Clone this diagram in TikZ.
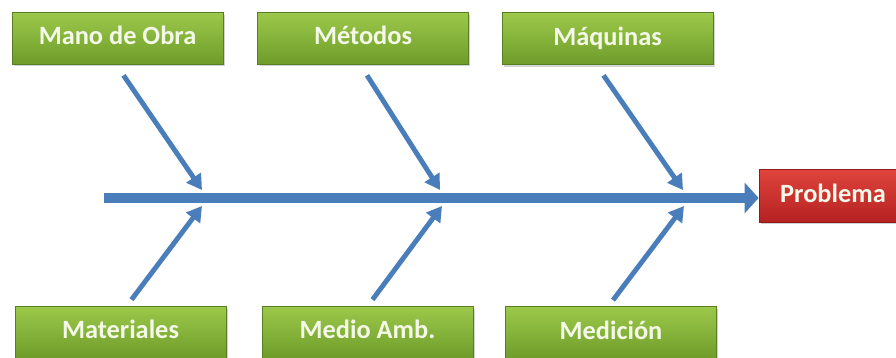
\documentclass[tikz,border=0pt]{standalone}
\usepackage{fontspec}
\setmainfont{Carlito}
\usetikzlibrary{arrows.meta,shadows,calc}

\definecolor{verdeclaro}{HTML}{9CC94A}
\definecolor{verdeoscuro}{HTML}{6F9C2A}
\definecolor{rojoclaro}{HTML}{E0443C}
\definecolor{rojooscuro}{HTML}{B52222}
\definecolor{azulflecha}{HTML}{4A7EBB}
\definecolor{textoclaro}{HTML}{F4F8E8}

\tikzset{
  causa/.style={minimum width=4.22cm, minimum height=1.04cm, inner sep=0pt,
    text height=10.5pt, text depth=3pt,
    top color=verdeclaro, bottom color=verdeoscuro, draw=verdeoscuro!80!black,
    drop shadow={opacity=0.35, shadow xshift=0.04cm, shadow yshift=-0.05cm},
    text=textoclaro, font=\fontsize{15}{18}\selectfont\bfseries},
  efecto/.style={causa, minimum width=2.96cm, minimum height=1.06cm,
    top color=rojoclaro, bottom color=rojooscuro, draw=rojooscuro!80!black},
  espina/.style={draw=azulflecha, line width=5.6pt,
    -{Triangle[length=0.28cm, width=0.6cm]}},
  flecha/.style={draw=azulflecha, line width=2.8pt,
    -{Triangle[length=0.3cm, width=0.34cm]}}
}

\begin{document}
\begin{tikzpicture}[x=0.02cm,y=-0.02cm]
    \useasboundingbox (0,0) rectangle (896,358);

    % causas de arriba
    \node[causa] (mano) at (117.5,38) {Mano de Obra};
    \node[causa] (metodos) at (363,38) {Métodos};
    \node[causa] (maquinas) at (607.5,38.5) {Máquinas};

    % causas de abajo
    \node[causa] (materiales) at (120.5,332) {Materiales};
    \node[causa] (medio) at (367.5,332) {Medio Amb.};
    \node[causa] (medicion) at (611,332.5) {Medición};

    % efecto
    \node[efecto] (problema) at (833,195.5) {Problema};

    % espina central
    \coordinate (inicio) at (104,198);
    \draw[espina] (inicio) -- (problema.west |- inicio);

    % puntos sobre la espina
    \coordinate (a1) at (202,190);
    \coordinate (a2) at (440,190);
    \coordinate (a3) at (683,190);
    \coordinate (b1) at (202,206);
    \coordinate (b2) at (442,206);
    \coordinate (b3) at (684,206);

    % flechas
    \draw[flecha] ($(mano.south)+(6,11)$) -- (a1);
    \draw[flecha] ($(metodos.south)+(4,11)$) -- (a2);
    \draw[flecha] ($(maquinas.south)+(-4,10.5)$) -- (a3);
    \draw[flecha] ($(materiales.north)+(11,-6)$) -- (b1);
    \draw[flecha] ($(medio.north)+(5,-6)$) -- (b2);
    \draw[flecha] ($(medicion.north)+(2,-6)$) -- (b3);
\end{tikzpicture}
\end{document}
